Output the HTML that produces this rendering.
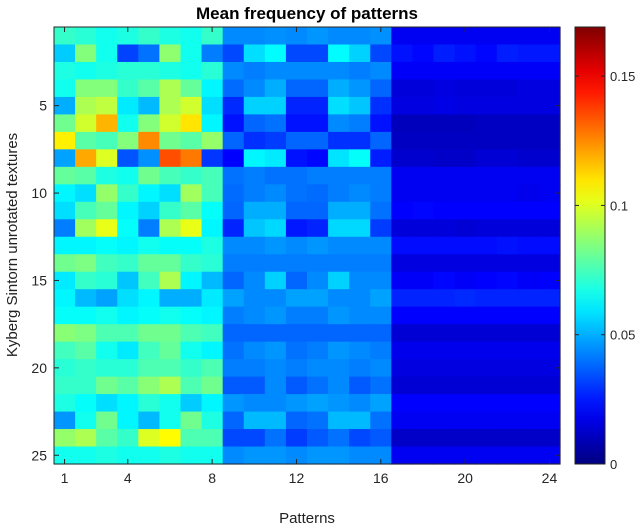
<!DOCTYPE html>
<html><head><meta charset="utf-8"><style>
body{margin:0;background:#fff;}
svg{display:block;font-family:"Liberation Sans",sans-serif;}
</style></head><body>
<svg id="chart" width="640" height="526">
<text x="307" y="19" text-anchor="middle" font-size="17" font-weight="bold" fill="#000">Mean frequency of patterns</text>
<text x="307" y="523" text-anchor="middle" font-size="15" fill="#222">Patterns</text>
<text transform="translate(17,245) rotate(-90)" text-anchor="middle" font-size="15" fill="#222">Kyberg Sintorn unrotated textures</text>
<g id="cells"></g>
<g id="axes"></g>
<defs><linearGradient id="jetg" x1="0" y1="1" x2="0" y2="0"></linearGradient></defs>
<g id="cbar"></g>
</svg>
<script>
const colLeft=[
[0.072,0.070,0.066,0.068,0.072,0.068,0.066,0.072],
[0.055,0.085,0.066,0.032,0.040,0.087,0.066,0.042],
[0.068,0.066,0.068,0.070,0.070,0.068,0.066,0.070],
[0.066,0.085,0.085,0.072,0.078,0.092,0.080,0.062],
[0.050,0.092,0.095,0.060,0.052,0.092,0.098,0.058],
[0.082,0.098,0.118,0.066,0.085,0.098,0.110,0.062],
[0.108,0.078,0.075,0.085,0.125,0.082,0.078,0.088],
[0.048,0.120,0.100,0.035,0.045,0.135,0.128,0.030],
[0.080,0.078,0.068,0.066,0.082,0.075,0.072,0.075],
[0.062,0.058,0.088,0.072,0.062,0.058,0.090,0.075],
[0.058,0.075,0.080,0.062,0.056,0.072,0.078,0.064],
[0.042,0.090,0.102,0.064,0.042,0.092,0.102,0.062],
[0.062,0.062,0.064,0.062,0.066,0.064,0.064,0.068],
[0.082,0.084,0.074,0.072,0.080,0.080,0.072,0.070],
[0.060,0.072,0.070,0.054,0.074,0.092,0.062,0.052],
[0.062,0.052,0.048,0.058,0.062,0.050,0.050,0.060],
[0.064,0.064,0.066,0.062,0.064,0.066,0.064,0.062],
[0.086,0.084,0.076,0.076,0.082,0.082,0.076,0.074],
[0.074,0.078,0.066,0.060,0.074,0.080,0.066,0.062],
[0.070,0.072,0.070,0.070,0.076,0.076,0.072,0.076],
[0.072,0.072,0.082,0.078,0.086,0.092,0.076,0.082],
[0.068,0.064,0.058,0.062,0.070,0.066,0.055,0.062],
[0.046,0.066,0.082,0.062,0.052,0.066,0.082,0.068],
[0.088,0.092,0.078,0.072,0.100,0.106,0.076,0.076],
[0.066,0.066,0.068,0.066,0.066,0.068,0.066,0.066]];
const colMid=[
[0.044,0.044,0.045,0.044,0.046,0.044,0.044,0.045],
[0.033,0.058,0.063,0.033,0.033,0.063,0.056,0.033],
[0.044,0.042,0.044,0.044,0.044,0.044,0.042,0.044],
[0.039,0.044,0.050,0.038,0.038,0.050,0.046,0.038],
[0.028,0.056,0.056,0.027,0.027,0.058,0.054,0.029],
[0.024,0.038,0.040,0.024,0.024,0.044,0.042,0.024],
[0.038,0.029,0.031,0.038,0.038,0.029,0.029,0.038],
[0.021,0.062,0.060,0.024,0.022,0.059,0.064,0.026],
[0.040,0.042,0.040,0.040,0.042,0.042,0.042,0.042],
[0.039,0.042,0.044,0.040,0.039,0.042,0.044,0.042],
[0.038,0.050,0.050,0.038,0.038,0.050,0.050,0.040],
[0.027,0.054,0.057,0.025,0.027,0.057,0.057,0.031],
[0.044,0.044,0.046,0.044,0.046,0.044,0.044,0.044],
[0.042,0.042,0.042,0.042,0.042,0.042,0.042,0.042],
[0.038,0.044,0.056,0.038,0.044,0.056,0.044,0.044],
[0.048,0.044,0.044,0.048,0.048,0.044,0.044,0.048],
[0.042,0.044,0.046,0.042,0.042,0.046,0.044,0.044],
[0.038,0.038,0.038,0.038,0.038,0.038,0.038,0.038],
[0.040,0.044,0.046,0.040,0.042,0.046,0.044,0.042],
[0.042,0.042,0.044,0.042,0.044,0.044,0.042,0.044],
[0.036,0.036,0.044,0.036,0.040,0.044,0.036,0.040],
[0.046,0.044,0.044,0.046,0.048,0.046,0.044,0.048],
[0.038,0.052,0.052,0.038,0.040,0.052,0.052,0.040],
[0.033,0.033,0.040,0.031,0.036,0.040,0.033,0.036],
[0.044,0.046,0.046,0.044,0.046,0.046,0.044,0.044]];
const colRight=[
[0.019,0.019,0.019,0.019,0.019,0.019,0.019,0.019],
[0.024,0.022,0.026,0.024,0.022,0.026,0.025,0.025],
[0.020,0.020,0.020,0.020,0.020,0.020,0.020,0.020],
[0.015,0.015,0.016,0.015,0.015,0.015,0.016,0.016],
[0.016,0.016,0.017,0.016,0.016,0.016,0.016,0.016],
[0.010,0.010,0.010,0.010,0.011,0.011,0.011,0.011],
[0.011,0.011,0.011,0.011,0.011,0.011,0.011,0.011],
[0.013,0.013,0.012,0.012,0.014,0.014,0.013,0.013],
[0.019,0.019,0.019,0.019,0.019,0.019,0.019,0.019],
[0.019,0.019,0.019,0.019,0.019,0.019,0.018,0.019],
[0.021,0.022,0.021,0.021,0.021,0.021,0.021,0.021],
[0.015,0.015,0.015,0.014,0.015,0.015,0.015,0.015],
[0.023,0.023,0.023,0.023,0.023,0.024,0.023,0.023],
[0.016,0.016,0.016,0.016,0.016,0.016,0.016,0.016],
[0.020,0.020,0.022,0.020,0.021,0.022,0.020,0.021],
[0.027,0.027,0.027,0.028,0.027,0.027,0.027,0.027],
[0.021,0.021,0.021,0.021,0.021,0.021,0.021,0.021],
[0.014,0.014,0.014,0.014,0.014,0.014,0.014,0.014],
[0.018,0.018,0.018,0.018,0.018,0.018,0.018,0.018],
[0.016,0.016,0.016,0.016,0.016,0.016,0.016,0.016],
[0.014,0.014,0.014,0.014,0.014,0.014,0.014,0.014],
[0.021,0.021,0.021,0.021,0.021,0.021,0.021,0.021],
[0.019,0.019,0.019,0.019,0.019,0.019,0.019,0.019],
[0.012,0.012,0.012,0.012,0.012,0.012,0.012,0.012],
[0.019,0.019,0.019,0.019,0.019,0.019,0.019,0.019]];
const xTicks=[1,4,8,12,16,20,24];
const yTicks=[5,10,15,20,25];
const cTicks=[0,0.05,0.1,0.15];
const cMax=0.169;

const NS="http://www.w3.org/2000/svg";
const L=54,R=560,T=27,B=464,NC=24,NR=25;
const cw=(R-L)/NC, rh=(B-T)/NR;
function xs(c){return L+(c-1)*cw;}
function ys(r){return T+(r-1)*rh;}
function jet(v){
  const t=Math.max(0,Math.min(1,v/cMax));
  const f=x=>Math.max(0,Math.min(1,1.5-Math.abs(4*t-x)));
  return `rgb(${Math.round(255*f(3))},${Math.round(255*f(2))},${Math.round(255*f(1))})`;
}
function mk(tag,attrs,parent){const e=document.createElementNS(NS,tag);for(const k in attrs)e.setAttribute(k,attrs[k]);parent.appendChild(e);return e;}
const cells=document.getElementById('cells');
for(let r=0;r<NR;r++){
  const row=colLeft[r].concat(colMid[r],colRight[r]);
  for(let c=0;c<NC;c++){
    const e=mk('rect',{x:xs(c+1),y:ys(r+1),width:cw+0.6,height:rh+0.6,fill:jet(row[c])},cells);
    
    
  }
}
const axes=document.getElementById('axes');
const frame=mk('rect',{x:L,y:T,width:R-L,height:B-T,fill:'none',stroke:'#262626','stroke-width':1},axes);


xTicks.forEach(v=>{
  const x=xs(v)+cw/2;
  mk('line',{x1:x,x2:x,y1:B,y2:B-5,stroke:'#262626'},axes);
  mk('line',{x1:x,x2:x,y1:T,y2:T+5,stroke:'#262626'},axes);
  const t=mk('text',{x:x,y:B+19,'text-anchor':'middle','font-size':14,fill:'#262626'},axes);
  t.textContent=v;
  
  
});
yTicks.forEach(v=>{
  const y=ys(v)+rh/2;
  mk('line',{x1:L,x2:L+5,y1:y,y2:y,stroke:'#262626'},axes);
  mk('line',{x1:R,x2:R-5,y1:y,y2:y,stroke:'#262626'},axes);
  const t=mk('text',{x:L-7,y:y+5,'text-anchor':'end','font-size':14,fill:'#262626'},axes);
  t.textContent=v;
  
  
});
const g=document.getElementById('jetg');
for(let i=0;i<=20;i++){mk('stop',{offset:(i/20),'stop-color':jet(cMax*i/20)},g);}
const cb=document.getElementById('cbar');
const CL=575,CR=605;
const cbr=mk('rect',{x:CL,y:T,width:CR-CL,height:B-T,fill:'url(#jetg)',stroke:'#262626'},cb);


cTicks.forEach(v=>{
  const y=B-(v/cMax)*(B-T);
  mk('line',{x1:CL,x2:CL+4,y1:y,y2:y,stroke:'#262626'},cb);
  mk('line',{x1:CR,x2:CR-4,y1:y,y2:y,stroke:'#262626'},cb);
  const t=mk('text',{x:CR+5,y:y+5,'font-size':13,fill:'#262626'},cb);
  t.textContent=v;
  
  
});
</script>
</body></html>
